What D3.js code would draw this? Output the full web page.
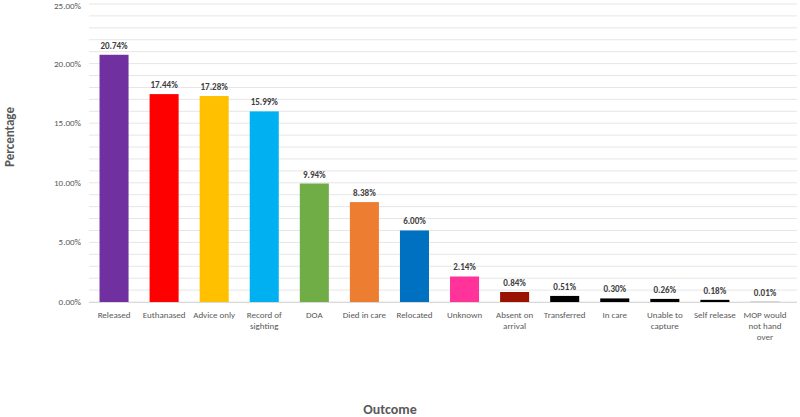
<!DOCTYPE html>
<html>
<head>
<meta charset="utf-8">
<script src="https://cdn.jsdelivr.net/npm/d3@7"></script>
<style>
  body { margin: 0; background: #fff; }
  svg { font-family: Calibri, Carlito, "Liberation Sans", sans-serif; }
</style>
</head>
<body>
<svg id="chart" width="800" height="417"></svg>
<script>
const categories = ['Released', 'Euthanased', 'Advice only', 'Record of sighting', 'DOA', 'Died in care',
  'Relocated', 'Unknown', 'Absent on arrival', 'Transferred', 'In care', 'Unable to capture',
  'Self release', 'MOP would not hand over'];
const values = [20.74, 17.44, 17.28, 15.99, 9.94, 8.38, 6.00, 2.14, 0.84, 0.51, 0.30, 0.26, 0.18, 0.01];
const colors = ['#7030A0', '#FF0000', '#FFC000', '#00B0F0', '#70AD47', '#ED7D31', '#0070C0',
  '#FF3399', '#991100', '#000000', '#000000', '#000000', '#000000', '#000000'];
const yTicks = [0, 5, 10, 15, 20, 25];
// x labels wrapped like the original
const xLabelLines = {
  'Record of sighting': ['Record of', 'sighting'],
  'Absent on arrival': ['Absent on', 'arrival'],
  'Unable to capture': ['Unable to', 'capture'],
  'MOP would not hand over': ['MOP would', 'not hand', 'over']
};

const svg = d3.select('#chart');
const plotLeft = 89, plotRight = 790, plotTop = 4, plotBottom = 302;

const x = d3.scaleBand().domain(categories).range([plotLeft, plotRight]).paddingInner(0.42).paddingOuter(0.21);
const y = d3.scaleLinear().domain([0, 25]).range([plotBottom, plotTop]);

// minor grid every 1%
svg.append('g')
  .selectAll('line')
  .data(d3.range(0, 26))
  .join('line')
  .attr('x1', plotLeft)
  .attr('x2', 797)
  .attr('y1', d => y(d))
  .attr('y2', d => y(d))
  .attr('stroke', '#e6e6e6')
  .attr('stroke-width', 1);

// y axis labels (top one nudged so it isn't clipped)
svg.append('g')
  .selectAll('text')
  .data(yTicks)
  .join('text')
  .attr('x', 81)
  .attr('y', d => Math.max(y(d) + 3, 9))
  .attr('text-anchor', 'end')
  .attr('font-size', 9)
  .attr('fill', '#595959')
  .text(d => d.toFixed(2) + '%');

// bars
svg.append('g')
  .selectAll('rect')
  .data(values)
  .join('rect')
  .attr('x', (d, i) => x(categories[i]))
  .attr('width', x.bandwidth())
  .attr('y', d => y(d))
  .attr('height', d => Math.max(1, plotBottom - y(d)))
  .attr('fill', (d, i) => colors[i]);

// baseline
svg.append('line')
  .attr('x1', plotLeft).attr('x2', 797)
  .attr('y1', plotBottom + 0.5).attr('y2', plotBottom + 0.5)
  .attr('stroke', '#d9d9d9');

// data labels
svg.append('g')
  .selectAll('text')
  .data(values)
  .join('text')
  .attr('x', (d, i) => x(categories[i]) + x.bandwidth() / 2)
  .attr('y', d => y(d) - 6)
  .attr('text-anchor', 'middle')
  .attr('font-size', 9)
  .attr('font-weight', 'bold')
  .attr('fill', '#404040')
  .text(d => d.toFixed(2) + '%');

// x labels
const xl = svg.append('g')
  .selectAll('text')
  .data(categories)
  .join('text')
  .attr('x', d => x(d) + x.bandwidth() / 2)
  .attr('y', 318)
  .attr('text-anchor', 'middle')
  .attr('font-size', 9)
  .attr('fill', '#595959');
xl.selectAll('tspan')
  .data(d => xLabelLines[d] || [d])
  .join('tspan')
  .attr('x', function () { return d3.select(this.parentNode).attr('x'); })
  .attr('dy', (d, i) => (i === 0 ? 0 : 11))
  .text(d => d);

// axis titles
svg.append('text')
  .attr('transform', 'translate(14,137) rotate(-90)')
  .attr('text-anchor', 'middle')
  .attr('font-size', 13)
  .attr('font-weight', 'bold')
  .attr('fill', '#595959')
  .text('Percentage');

svg.append('text')
  .attr('x', 390)
  .attr('y', 414)
  .attr('text-anchor', 'middle')
  .attr('font-size', 14)
  .attr('font-weight', 'bold')
  .attr('fill', '#595959')
  .text('Outcome');
</script>
</body>
</html>
